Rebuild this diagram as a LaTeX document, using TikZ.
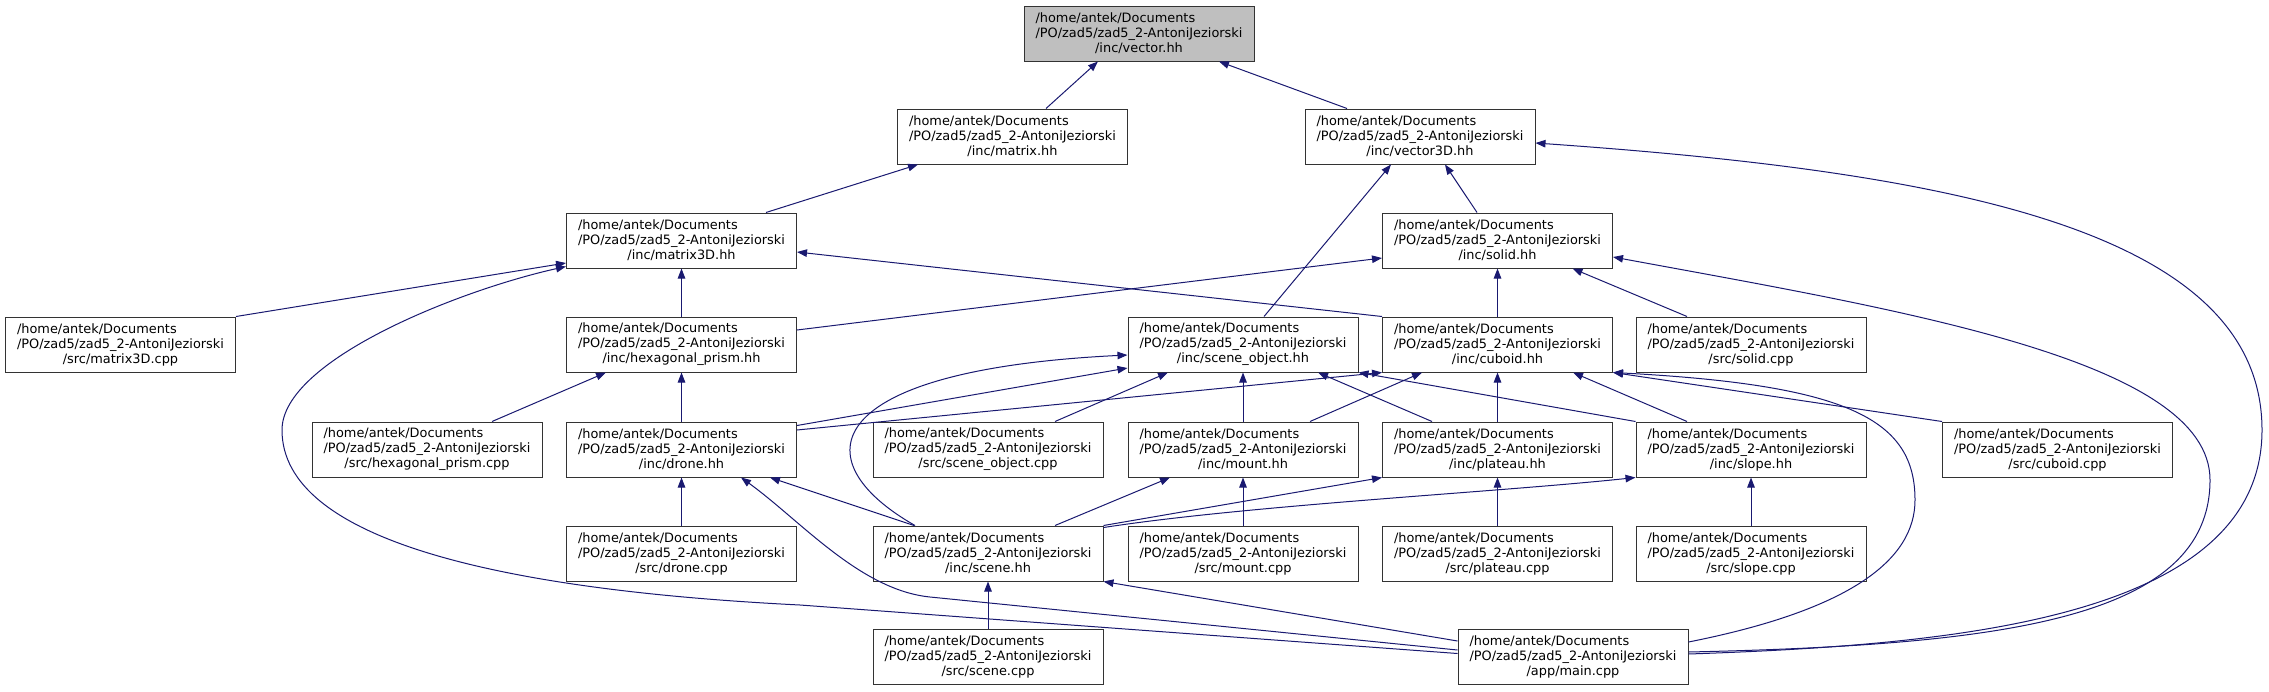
\documentclass[tikz,border=0pt]{standalone}
\usepackage{fontspec}
\setmainfont{DejaVu Sans}
\usetikzlibrary{arrows.meta}
\definecolor{edgeblue}{HTML}{191970}
\definecolor{focusgray}{HTML}{BFBFBF}
\newcommand{\fpath}[1]{\rlap{/home/antek/Documents}\phantom{/PO/zad5/zad5\_2-AntoniJeziorski}\\/PO/zad5/zad5\_2-AntoniJeziorski\\#1}
\tikzset{x=1pt, y=-1pt,
    file/.style={draw=black!80, line width=1pt, fill=white, minimum width=230pt, minimum height=55pt,
        inner sep=0pt, align=center, font=\fontsize{12.9}{15}\selectfont},
    dep/.style={draw=edgeblue, line width=1pt, -{Triangle[length=10pt,width=7.5pt]}}}

\begin{document}
\begin{tikzpicture}
    \useasboundingbox (0,0) rectangle (2269,691);
    \node[file, fill=focusgray] (vectorhh) at (1139,33.5) {\fpath{/inc/vector.hh}};
    \node[file] (matrixhh) at (1012.5,136.5) {\fpath{/inc/matrix.hh}};
    \node[file] (vecthreehh) at (1420,136.5) {\fpath{/inc/vector3D.hh}};
    \node[file] (matthreehh) at (681.5,240.5) {\fpath{/inc/matrix3D.hh}};
    \node[file] (solidhh) at (1497.5,240.5) {\fpath{/inc/solid.hh}};
    \node[file] (matthreecpp) at (120.5,344.5) {\fpath{/src/matrix3D.cpp}};
    \node[file] (hexhh) at (681.5,344.5) {\fpath{/inc/hexagonal\_prism.hh}};
    \node[file] (sceneobjhh) at (1243,344.5) {\fpath{/inc/scene\_object.hh}};
    \node[file] (cuboidhh) at (1497.5,344.5) {\fpath{/inc/cuboid.hh}};
    \node[file] (solidcpp) at (1751,344.5) {\fpath{/src/solid.cpp}};
    \node[file] (hexcpp) at (427,449.5) {\fpath{/src/hexagonal\_prism.cpp}};
    \node[file] (dronehh) at (681.5,449.5) {\fpath{/inc/drone.hh}};
    \node[file] (sceneobjcpp) at (988,449.5) {\fpath{/src/scene\_object.cpp}};
    \node[file] (mounthh) at (1243,449.5) {\fpath{/inc/mount.hh}};
    \node[file] (plateauhh) at (1497.5,449.5) {\fpath{/inc/plateau.hh}};
    \node[file] (slopehh) at (1751,449.5) {\fpath{/inc/slope.hh}};
    \node[file] (cuboidcpp) at (2057.5,449.5) {\fpath{/src/cuboid.cpp}};
    \node[file] (dronecpp) at (681.5,553.5) {\fpath{/src/drone.cpp}};
    \node[file] (scenehh) at (988,553.5) {\fpath{/inc/scene.hh}};
    \node[file] (mountcpp) at (1243,553.5) {\fpath{/src/mount.cpp}};
    \node[file] (plateaucpp) at (1497.5,553.5) {\fpath{/src/plateau.cpp}};
    \node[file] (slopecpp) at (1751,553.5) {\fpath{/src/slope.cpp}};
    \node[file] (scenecpp) at (988,656.5) {\fpath{/src/scene.cpp}};
    \node[file] (maincpp) at (1573,656.5) {\fpath{/app/main.cpp}};

    \foreach \a/\b in {hexhh/matthreehh, cuboidhh/solidhh, mounthh/sceneobjhh, plateauhh/cuboidhh,
        dronehh/hexhh, dronecpp/dronehh, mountcpp/mounthh, plateaucpp/plateauhh,
        slopecpp/slopehh, scenecpp/scenehh}
        \draw[dep] (\a) -- (\b);

    \draw[dep] ([xshift=33.5pt]matrixhh.north) -- ([xshift=-41pt]vectorhh.south);
    \draw[dep] ([xshift=-73pt]vecthreehh.north) -- ([xshift=80pt]vectorhh.south);
    \draw[dep] ([xshift=84.5pt]matthreehh.north) -- ([xshift=-94.5pt]matrixhh.south);
    \draw[dep] ([xshift=21pt]sceneobjhh.north) -- ([xshift=-29pt]vecthreehh.south);
    \draw[dep] ([xshift=-20.5pt]solidhh.north) -- ([xshift=25pt]vecthreehh.south);
    \draw[dep] ([yshift=2.5pt]maincpp.east) .. controls (1950,645) and (2262,620) .. (2262,430)
        .. controls (2262,230) and (1950,172) .. ([yshift=-6.5pt]vecthreehh.east);
    \draw[dep] (cuboidhh.north west) -- ([yshift=-11.5pt]matthreehh.east);
    \draw[dep] (matthreecpp.north east) -- ([yshift=-22.5pt]matthreehh.west);
    \draw[dep] ([yshift=3pt]maincpp.west) -- (800,605) .. controls (500,590) and (282,540) .. (282,430)
        .. controls (282,360) and (460,290) .. ([yshift=-26pt]matthreehh.west);
    \draw[dep] ([yshift=14.5pt]hexhh.east) -- ([yshift=-17.5pt]solidhh.west);
    \draw[dep] ([xshift=-64pt]solidcpp.north) -- ([xshift=75pt]solidhh.south);
    \draw[dep] ([yshift=4.5pt]maincpp.east) .. controls (2000,645) and (2210,620) .. (2210,480)
        .. controls (2210,360) and (1900,310) .. ([yshift=-16.5pt]solidhh.east);
    \draw[dep] ([yshift=14.5pt]maincpp.east) .. controls (1850,610) and (1915,560) .. (1915,500)
        .. controls (1915,420) and (1850,385) .. (cuboidhh.south east);
    \draw[dep] (cuboidcpp.north west) -- (cuboidhh.south east);
    \draw[dep] ([yshift=19.5pt]dronehh.east) -- (cuboidhh.south west);
    \draw[dep] (slopehh.north west) -- (sceneobjhh.south east);
    \draw[dep] ([yshift=24pt]dronehh.east) -- ([yshift=-23.5pt]sceneobjhh.west);
    \draw[dep] ([xshift=-73pt]scenehh.north) .. controls (800,460) and (820,370) .. ([yshift=-10.5pt]sceneobjhh.west);
    \draw[dep] ([xshift=67pt]sceneobjcpp.north) -- ([xshift=-75pt]sceneobjhh.south);
    \draw[dep] ([xshift=-65.5pt]plateauhh.north) -- ([xshift=75pt]sceneobjhh.south);
    \draw[dep] ([xshift=67pt]mounthh.north) -- ([xshift=-75.5pt]cuboidhh.south);
    \draw[dep] ([xshift=-64pt]slopehh.north) -- ([xshift=75.5pt]cuboidhh.south);
    \draw[dep] ([xshift=65pt]hexcpp.north) -- ([xshift=-75.5pt]hexhh.south);
    \draw[dep] ([xshift=-74pt]scenehh.north) -- ([xshift=88.5pt]dronehh.south);
    \draw[dep] ([yshift=6.5pt]maincpp.west) -- (930,597) .. controls (860,590) and (800,520) .. ([xshift=59.5pt]dronehh.south);
    \draw[dep] ([xshift=67pt]scenehh.north) -- ([xshift=-73pt]mounthh.south);
    \draw[dep] (scenehh.north east) -- (plateauhh.south west);
    \draw[dep] ([yshift=-2pt]scenehh.north east) .. controls (1250,505) and (1500,492) .. (slopehh.south west);
    \draw[dep] ([yshift=15.5pt]maincpp.west) -- (scenehh.south east);
\end{tikzpicture}
\end{document}
